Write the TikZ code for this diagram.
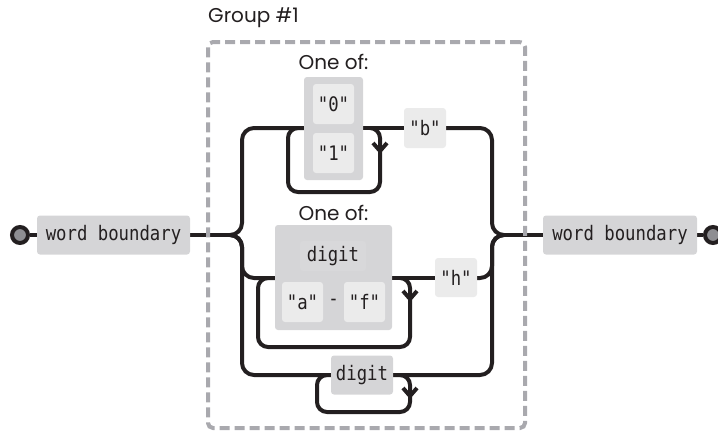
\documentclass[tikz,border=0pt]{standalone}
\usepackage{fontspec}
\setmainfont{Poppins}
\newfontfamily\monofnt[FakeStretch=0.865]{DejaVu Sans Mono}
\definecolor{railc}{HTML}{231F20}
\definecolor{outerbox}{HTML}{D5D5D7}
\definecolor{digbox}{HTML}{D8D8DA}
\definecolor{innerbox}{HTML}{EBEBEB}
\definecolor{dashgray}{HTML}{A9A9AE}
\definecolor{dotfill}{HTML}{8E8E92}
\pgfdeclarelayer{bg}
\pgfsetlayers{bg,main}
\begin{document}
\begin{tikzpicture}[x=1pt,y=-1pt,
  rail/.style={draw=railc, line width=4pt},
  chev/.style={draw=railc, line width=4pt, line join=miter},
  boxbase/.style={rounded corners=3pt, inner sep=0pt, text=railc,
    font=\monofnt\fontsize{20}{20}\selectfont},
  outer/.style={boxbase, fill=outerbox},
  term/.style={boxbase, fill=innerbox},
  lab/.style={inner sep=0pt, text=railc, font=\fontsize{20}{20}\selectfont},
  enddot/.style={circle, draw=railc, line width=4pt, fill=dotfill, minimum size=16pt, inner sep=0pt}
]
\useasboundingbox (0,0) rectangle (718,431);

% end points and main boxes
\node[enddot] (start) at (20,235) {};
\node[enddot] (stop) at (713,235) {};
\node[outer, minimum width=153pt, minimum height=39pt] (wbL) at (113.5,235) {word boundary};
\node[outer, minimum width=154pt, minimum height=39pt] (wbR) at (620,235) {word boundary};

% top branch
\node[outer, minimum width=59pt, minimum height=103pt] (o1) at (333.5,128.5) {};
\node[term, minimum width=41pt, minimum height=40pt] (q0) at (333.5,104) {"0"};
\node[term, minimum width=41pt, minimum height=40pt] (q1) at (333.5,153) {"1"};
\node[term, minimum width=42pt, minimum height=40pt] (b) at (425,128) {"b"};
\node[lab] (lab1) at (333.5,62) {One of:};

% middle branch
\node[outer, minimum width=117pt, minimum height=105pt] (o2) at (333.5,277.5) {};
\node[boxbase, fill=digbox, minimum width=66pt, minimum height=30pt] (dg) at (333,256) {digit};
\node[term, minimum width=41pt, minimum height=40pt] (qa) at (302.5,302) {"a"};
\node[inner sep=0pt, text=railc, font=\monofnt\fontsize{20}{20}\selectfont] (dash) at (333.5,302) {-};
\node[term, minimum width=41pt, minimum height=40pt] (qf) at (364.5,302) {"f"};
\node[term, minimum width=42pt, minimum height=39pt] (h) at (456,277.5) {"h"};
\node[lab] (lab2) at (333.5,213) {One of:};

% bottom branch
\node[outer, minimum width=62pt, minimum height=39pt] (d3) at (362,375) {digit};

% junction points
\coordinate (jl) at (230,235);
\coordinate (jr) at (504,235);

\begin{pgfonlayer}{bg}
\draw[rail] (start.east) -- (wbL.west);
\draw[rail] (wbL.east) -- (jl);
\draw[rail] (jr) -- (wbR.west);
\draw[rail] (wbR.east) -- (stop.west);
% left splits
\draw[rail, rounded corners=12pt] (jl) -| (242,128) -- (o1.west |- 0,128);
\draw[rail, rounded corners=12pt] (jl) -| (242,278) -- (o2.west |- 0,278);
\draw[rail, rounded corners=12pt] (jl) -| (242,375) -- (d3.west);
% through lines
\draw[rail] (o1.east |- 0,128) -- (b.west);
\draw[rail] (o2.east |- 0,278) -- (h.west |- 0,278);
% right merges
\draw[rail, rounded corners=12pt] (b.east) -| (492,235) -- (jr);
\draw[rail, rounded corners=12pt] (h.east |- 0,278) -| (492,235) -- (jr);
\draw[rail, rounded corners=12pt] (d3.east) -| (492,235) -- (jr);
% loops
\draw[rail, rounded corners=10pt] (370,128) -| (380,192) -| (288,128) -- (298,128);
\draw[rail, rounded corners=10pt] (400,278) -| (410,347) -| (258,278) -- (268,278);
\draw[rail, rounded corners=10pt] (400,375) -| (410,412) -| (317,375) -- (327,375);
\end{pgfonlayer}

% loop arrows
\draw[chev] (373,143) -- (380,151) -- (387,143);
\draw[chev] (403,291) -- (410,299) -- (417,291);
\draw[chev] (403,388) -- (410,396) -- (417,388);

% group
\node[draw=dashgray, line width=4pt, dash pattern=on 10pt off 5pt, rounded corners=5pt,
  minimum width=317pt, minimum height=386pt, inner sep=0pt] (grp) at (366.5,235) {};
\node[lab, anchor=west] (glabel) at (208,18) {Group \#1};
\end{tikzpicture}
\end{document}
